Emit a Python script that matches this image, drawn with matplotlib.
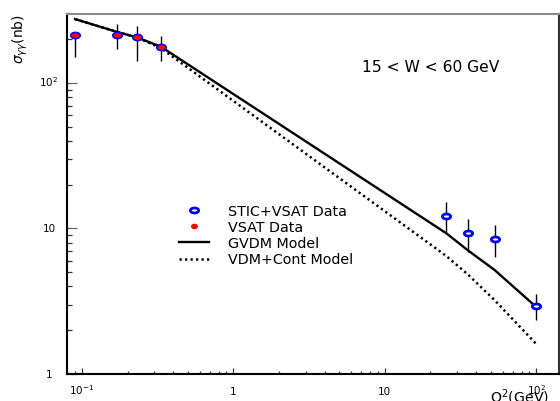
import numpy as np
import matplotlib
matplotlib.use("Agg")
import matplotlib.pyplot as plt
from matplotlib.path import Path
from matplotlib.transforms import Affine2D, blended_transform_factory, ScaledTranslation
from matplotlib.lines import Line2D
from matplotlib.legend_handler import HandlerLine2D
from matplotlib.ticker import FixedLocator, LogLocator, NullFormatter

# ---------------- data ----------------
q2_data = [0.090, 0.169, 0.230, 0.331, 25.5, 35.7, 53.1, 100.0]
sigma_data = [214, 213, 206, 176, 12.2, 9.27, 8.47, 2.93]
sigma_lo = [151, 170, 142, 142, 9.27, 6.93, 6.40, 2.35]
sigma_hi = [224, 254, 246, 211, 15.3, 11.6, 10.6, 3.55]

q2_vsat = [0.090, 0.169, 0.230, 0.331]
sigma_vsat = [214, 213, 206, 176]

q2_model = [0.090, 0.169, 0.230, 0.331, 25.5, 35.7, 53.1, 100.0]
sigma_gvdm = [275, 225, 206, 178, 9.27, 7.03, 5.19, 2.89]
sigma_vdm = [275, 225, 206, 174, 6.47, 4.79, 3.22, 1.61]

xticks = [0.1, 1, 10, 100]
xticklabels = [r"$10^{-1}$", "1", "10", r"$10^{2}$"]
yticks = [1, 10, 100]
yticklabels = ["1", "10", r"$10^{2}$"]

legend_labels = ["STIC+VSAT Data", "VSAT Data", "GVDM Model", "VDM+Cont Model"]
annot = "15 < W < 60 GeV"
ylabel = r"$\sigma_{\gamma\gamma}$(nb)"
xlabel = r"Q$^2$(GeV)"

# ---------------- figure ----------------
W, H = 560, 401
fig = plt.figure(figsize=(W / 100, H / 100), dpi=100)
L, R, T, B = 67, 559, 14, 374
ax = fig.add_axes([L / W, 1 - B / H, (R - L) / W, (B - T) / H])
ax.set_xscale("log")
ax.set_yscale("log")
ax.set_xlim(0.0796, 141.5)
ax.set_ylim(1, 298)

ell = Path.unit_circle().transformed(Affine2D().scale(1.0, 0.6))
ell2 = Path.unit_circle().transformed(Affine2D().scale(1.0, 0.8))

yerr = [np.array(sigma_data) - np.array(sigma_lo), np.array(sigma_hi) - np.array(sigma_data)]

ax.plot(q2_model, sigma_vdm, color="black", lw=1.8, linestyle=(0, (0.9, 1.3)), zorder=2)
ax.plot(q2_model, sigma_gvdm, color="black", lw=1.7, zorder=2)
ax.errorbar(q2_data, sigma_data, yerr=yerr, fmt="none", ecolor="black", elinewidth=1.0, capsize=0, zorder=3)
ax.plot(q2_data, sigma_data, linestyle="none", marker=ell, ms=6.0, mew=2.0,
        mec="#0000ff", mfc="white", zorder=4)
ax.plot(q2_vsat, sigma_vsat, linestyle="none", marker=ell, ms=5.6, mew=0,
        mfc="#ff0000", zorder=5)

# ticks
for axis in (ax.xaxis, ax.yaxis):
    axis.set_major_locator(FixedLocator(xticks if axis is ax.xaxis else yticks))
    axis.set_minor_locator(LogLocator(base=10, subs=np.arange(2, 10), numticks=20))
    axis.set_major_formatter(NullFormatter())
    axis.set_minor_formatter(NullFormatter())
ax.tick_params(axis="x", which="major", direction="in", length=4.3, width=0.9, color="#333333", top=False)
ax.tick_params(axis="x", which="minor", direction="in", length=2.3, width=0.9, color="#333333", top=False)
ax.tick_params(axis="y", which="major", direction="in", length=7, width=0.9, color="#666666", right=False)
ax.tick_params(axis="y", which="minor", direction="in", length=3.5, width=0.9, color="#333333", right=False)

for s in ("left", "bottom"):
    ax.spines[s].set_linewidth(1.5)
    ax.spines[s].set_color("black")
ax.spines["top"].set_linewidth(1.5)
ax.spines["top"].set_color("#8a8a8a")
ax.spines["right"].set_linewidth(1.5)
ax.spines["right"].set_color("#333333")

# tick labels drawn manually
tx = blended_transform_factory(ax.transData, ax.transAxes) + ScaledTranslation(0, -21.0 / 100, fig.dpi_scale_trans)
for v, lab in zip(xticks, xticklabels):
    ax.text(v, 0, lab, transform=tx, ha="center", va="baseline", fontsize=7.5, clip_on=False)
ty = blended_transform_factory(ax.transAxes, ax.transData) + ScaledTranslation(-18 / 100, -3.8 / 100, fig.dpi_scale_trans)
for v, lab in zip(yticks, yticklabels):
    ax.text(0, v, lab, transform=ty, ha="center", va="baseline", fontsize=7.5, clip_on=False)

# labels / annotation
fig.text(20 / W, 1 - 14 / H, ylabel, rotation=90, ha="center", va="top", fontsize=10)
fig.text(490 / W, 1 - 387.5 / H, xlabel, ha="left", va="top", fontsize=10.2)
fig.text(431 / W, 1 - 68 / H, annot, ha="center", va="center", fontsize=11.2)


class RightMarker(HandlerLine2D):
    def get_xdata(self, legend, xdescent, ydescent, width, height, fontsize):
        xd, xm = super().get_xdata(legend, xdescent, ydescent, width, height, fontsize)
        return xd, np.array([width - xdescent - 0.5])


h1 = Line2D([], [], linestyle="none", marker=ell, ms=6.0, mew=2.0, mec="#0000ff", mfc="white")
h2 = Line2D([], [], linestyle="none", marker=ell2, ms=5.0, mew=0, mfc="#ff0000")
h3 = Line2D([], [], color="black", lw=1.7)
h4 = Line2D([], [], color="black", lw=1.8, linestyle=(0, (0.9, 1.3)))
leg = ax.legend([h1, h2, h3, h4], legend_labels, loc="upper left",
                bbox_to_anchor=((179 - L) / (R - L), (B - 204.5) / (B - T)),
                frameon=False, fontsize=10.3, handlelength=2.1, handletextpad=1.3,
                labelspacing=0.14, borderpad=0, borderaxespad=0, numpoints=1,
                handler_map={h1: RightMarker(numpoints=1), h2: RightMarker(numpoints=1)})

fig.savefig("out.png", dpi=100)
